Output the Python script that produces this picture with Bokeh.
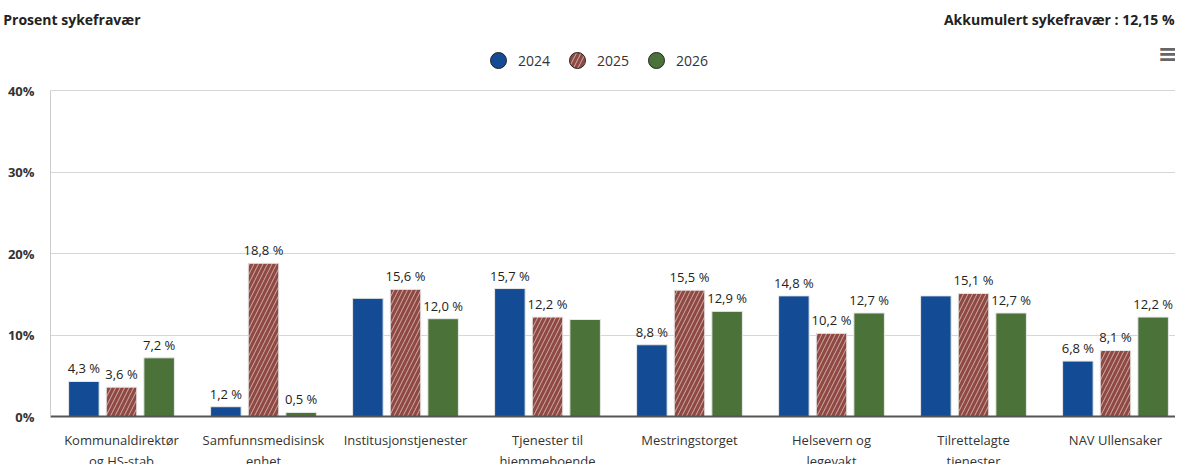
from bokeh.plotting import figure
from bokeh.models import (ColumnDataSource, Label, Legend, LegendItem, Range1d, LinearAxis,
                          PrintfTickFormatter, FixedTicker)
from bokeh.transform import dodge
from bokeh.core.properties import value
from bokeh.embed import file_html
from bokeh.resources import INLINE

categories = ["Kommunaldirektør\nog HS-stab", "Samfunnsmedisinsk\nenhet", "Institusjonstjenester",
              "Tjenester til\nhjemmeboende", "Mestringstorget", "Helsevern og\nlegevakt",
              "Tilrettelagte\ntjenester", "NAV Ullensaker"]
years = ["2024", "2025", "2026"]
v2024 = [4.3, 1.2, 14.5, 15.7, 8.8, 14.8, 14.8, 6.8]
v2025 = [3.6, 18.8, 15.6, 12.2, 15.5, 10.2, 15.1, 8.1]
v2026 = [7.2, 0.5, 12.0, 11.9, 12.9, 12.7, 12.7, 12.2]
# data labels that the original chart hides (overlap), by category index
hidden2024 = [2, 6]
hidden2025 = []
hidden2026 = [3]
y_ticks = [0, 10, 20, 30, 40]
y_max = 40
title_left = "Prosent sykefravær"
title_right = "Akkumulert sykefravær : 12,15 %"

colors = ["#134c94", "#8f4942", "#4b7339"]
FONT = "Open Sans"

# layout (pixels)
BL = 44
FW = 1125
FH = 416            # frame covers the whole header area too
PLOT_H = 326        # pixel height of the 0..40 % value band
CAT_PX = 142.0      # pixel width of one category slot
PX_PER_UNIT = PLOT_H / y_max
Y_TOP = FH / PX_PER_UNIT


def y_at(px_from_top):
    return (FH - px_from_top) / PX_PER_UNIT


xpos = list(range(len(categories)))
p = figure(x_range=Range1d(-0.5, -0.5 + FW / CAT_PX), y_range=Range1d(0, Y_TOP),
           frame_width=FW, frame_height=FH,
           output_backend="svg", toolbar_location=None,
           min_border_left=BL, min_border_right=0, min_border_top=0, min_border_bottom=0)
p.outline_line_color = None
p.xgrid.grid_line_color = None
p.ygrid.ticker = FixedTicker(ticks=y_ticks)
p.ygrid.grid_line_color = "#d6d6d6"
p.ygrid.grid_line_width = 1
p.yaxis.ticker = FixedTicker(ticks=y_ticks)
p.yaxis.bounds = (0, y_max)
p.yaxis.formatter = PrintfTickFormatter(format="%d%%")
p.yaxis.axis_line_color = "#cccccc"
p.yaxis.major_tick_line_color = None
p.yaxis.minor_tick_line_color = None
p.yaxis.major_tick_out = 0
p.yaxis.major_tick_in = 0
p.yaxis.major_label_standoff = 16
p.yaxis.major_label_text_font = FONT
p.yaxis.major_label_text_font_size = "13px"
p.yaxis.major_label_text_font_style = "bold"
p.yaxis.major_label_text_color = "#333333"
p.xaxis.ticker = FixedTicker(ticks=xpos)
p.xaxis.major_label_overrides = {i: c for i, c in zip(xpos, categories)}
p.xaxis.axis_line_color = "#555555"
p.xaxis.axis_line_width = 2
p.xaxis.major_tick_line_color = None
p.xaxis.minor_tick_line_color = None
p.xaxis.major_tick_out = 0
p.xaxis.major_tick_in = 0
p.xaxis.major_label_standoff = 14
p.xaxis.major_label_text_font = FONT
p.xaxis.major_label_text_font_size = "13px"
p.xaxis.major_label_text_color = "#333333"

# chart title (top-left) drawn as the single tick label of a bare extra left axis
y_title = y_at(19)
title_axis = LinearAxis(ticker=FixedTicker(ticks=[y_title]),
                        major_label_overrides={y_title: title_left},
                        axis_line_color=None, major_tick_line_color=None,
                        minor_tick_line_color=None, major_tick_out=0, major_tick_in=0,
                        major_label_standoff=-136, major_label_text_font=FONT,
                        major_label_text_font_size="14px", major_label_text_font_style="bold",
                        major_label_text_color="#222222")
p.add_layout(title_axis, "left")


def fmt(v):
    return f"{v:.1f}".replace(".", ",") + " %"


series = [v2024, v2025, v2026]
hidden = [hidden2024, hidden2025, hidden2026]
offsets = [-0.265, 0.0, 0.265]
legend_items = []
for yr, vals, hid, off, col in zip(years, series, hidden, offsets, colors):
    labels = ["" if j in hid else fmt(v) for j, v in enumerate(vals)]
    src = ColumnDataSource(dict(x=xpos, val=vals, lab=labels))
    kw = {}
    if yr == "2025":
        kw = dict(hatch_pattern="/", hatch_color="white", hatch_alpha=0.55,
                  hatch_scale=9, hatch_weight=1)
    p.vbar(x=dodge("x", off), top="val", width=0.215, source=src,
           fill_color=col, line_color="#e8e8e8", line_width=1, **kw)
    p.text(x=dodge("x", off), y="val", text="lab", source=src,
           text_align="center", text_baseline="bottom", y_offset=-4,
           text_font=value(FONT), text_font_size="13px", text_color="#222222")
    lsrc = ColumnDataSource(dict(x=[float("nan")], y=[float("nan")]))
    r = p.scatter(x="x", y="y", source=lsrc, marker="circle", size=16,
                  fill_color=col, line_color="#222222", line_width=1, **kw)
    legend_items.append(LegendItem(label=yr, renderers=[r]))

legend = Legend(items=legend_items, orientation="horizontal",
                location=(428, FH - 60 - 20), glyph_width=40, glyph_height=40,
                label_standoff=0, spacing=7, padding=0, margin=0,
                border_line_alpha=0, background_fill_alpha=0,
                label_text_font=FONT, label_text_font_size="14px",
                label_text_color="#333333")
p.add_layout(legend, "center")

p.add_layout(Label(x=FW - 1, y=FH - 19, x_units="screen", y_units="screen",
                   text=title_right, text_font=FONT, text_font_size="14px",
                   text_font_style="bold", text_color="#222222",
                   text_baseline="middle", text_align="right"))
p.add_layout(Label(x=FW - 8, y=FH - 53, x_units="screen", y_units="screen",
                   text="≡", text_font="DejaVu Sans", text_font_size="24px",
                   text_font_style="bold", text_color="#666666",
                   text_baseline="middle", text_align="center"))

open("out.html", "w").write(file_html(p, INLINE))
